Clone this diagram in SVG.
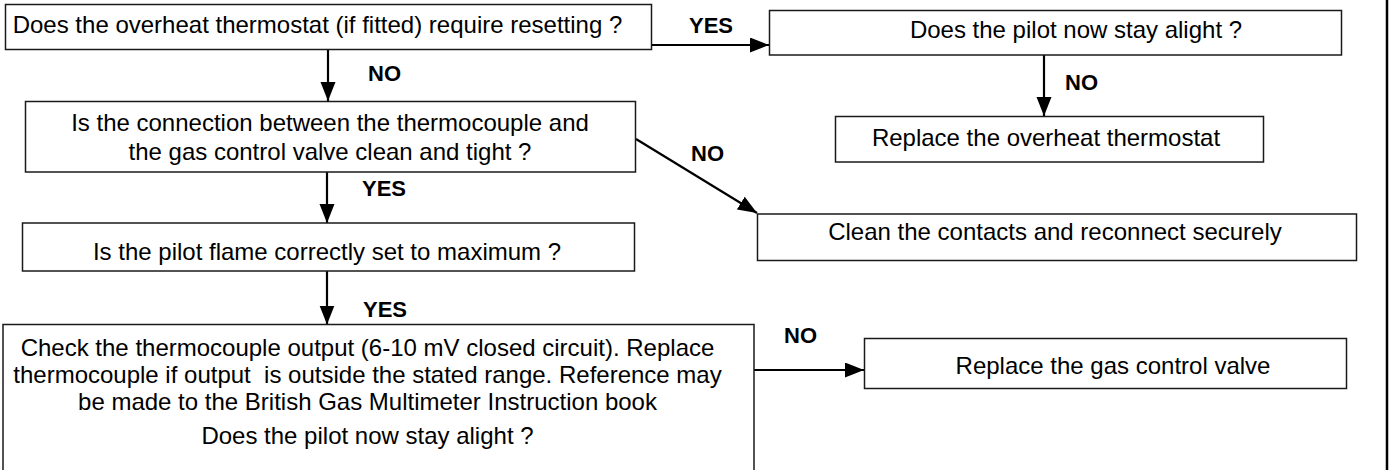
<svg xmlns="http://www.w3.org/2000/svg" width="1391" height="470" viewBox="0 0 1391 470">
<style>
.box{fill:#fff;stroke:#1a1a1a;stroke-width:1.5}
.t{font-family:"Liberation Sans",Arial,sans-serif;font-size:24px;fill:#000;text-anchor:middle}
.lb{font-family:"Liberation Sans",Arial,sans-serif;font-size:22px;font-weight:bold;fill:#000}
.c{stroke:#000;stroke-width:2.2;fill:none;marker-end:url(#ah)}
</style>
<defs>
<marker id="ah" markerUnits="userSpaceOnUse" markerWidth="20" markerHeight="16" refX="19" refY="7.5" orient="auto">
<path d="M0,0 L19,7.5 L0,15 z" fill="#000"/>
</marker>
</defs>
<rect width="1391" height="470" fill="#fff"/>
<line x1="1387" y1="0" x2="1387" y2="470" stroke="#000" stroke-width="2.5"/>
<g id="connectors">
<line class="c" x1="328" y1="49.5" x2="328" y2="101"/>
<line class="c" x1="652" y1="45" x2="769" y2="45"/>
<line class="c" x1="1044" y1="55" x2="1044" y2="116"/>
<line class="c" x1="636" y1="139" x2="757" y2="213"/>
<line class="c" x1="327" y1="172" x2="327" y2="223"/>
<line class="c" x1="327" y1="271" x2="327" y2="324.5"/>
<line class="c" x1="754" y1="370" x2="864" y2="370"/>
<text class="lb" x="689" y="33">YES</text>
<text class="lb" x="368" y="81">NO</text>
<text class="lb" x="1065" y="90">NO</text>
<text class="lb" x="691" y="161">NO</text>
<text class="lb" x="362" y="196">YES</text>
<text class="lb" x="363" y="317">YES</text>
<text class="lb" x="784" y="343">NO</text>
</g>
<g id="n1">
<rect class="box" x="5.5" y="4.5" width="646" height="45"/>
<text class="t" x="317.5" y="33">Does the overheat thermostat (if fitted) require resetting ?</text>
</g>
<g id="n2">
<rect class="box" x="769.5" y="10.5" width="572" height="44.5"/>
<text class="t" x="1076" y="38">Does the pilot now stay alight ?</text>
</g>
<g id="n3">
<rect class="box" x="835.5" y="116.5" width="428" height="45.5"/>
<text class="t" x="1046" y="146">Replace the overheat thermostat</text>
</g>
<g id="n4">
<rect class="box" x="25.5" y="101.5" width="610" height="70.5"/>
<text class="t" x="330" y="131">Is the connection between the thermocouple and</text>
<text class="t" x="330" y="160">the gas control valve clean and tight ?</text>
</g>
<g id="n5">
<rect class="box" x="757.5" y="214" width="599" height="46.5"/>
<text class="t" x="1055" y="240">Clean the contacts and reconnect securely</text>
</g>
<g id="n6">
<rect class="box" x="22.5" y="223" width="612" height="48"/>
<text class="t" x="327" y="260">Is the pilot flame correctly set to maximum ?</text>
</g>
<g id="n7">
<rect class="box" x="3" y="324.5" width="751" height="160"/>
<text class="t" x="367.5" y="356">Check the thermocouple output (6-10 mV closed circuit). Replace</text>
<text class="t" x="367.5" y="383" xml:space="preserve">thermocouple if output  is outside the stated range. Reference may</text>
<text class="t" x="367.5" y="410">be made to the British Gas Multimeter Instruction book</text>
<text class="t" x="367.5" y="444">Does the pilot now stay alight ?</text>
</g>
<g id="n8">
<rect class="box" x="864.5" y="338.5" width="482" height="50"/>
<text class="t" x="1113" y="374">Replace the gas control valve</text>
</g>
</svg>
